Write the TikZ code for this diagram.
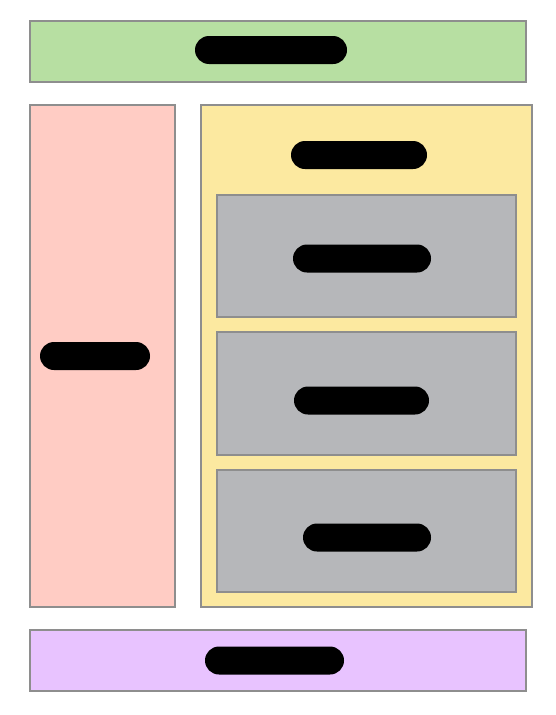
\documentclass[tikz,border=0pt]{standalone}
\usepackage{tikz}
\usetikzlibrary{positioning}
\definecolor{hdrgreen}{HTML}{B7DFA2}
\definecolor{sidered}{HTML}{FFCCC4}
\definecolor{mainyellow}{HTML}{FCE9A0}
\definecolor{panelgray}{HTML}{B6B7BA}
\definecolor{ftrpurple}{HTML}{E8C3FF}
\definecolor{edgegray}{HTML}{8E8E8E}
\begin{document}
\begin{tikzpicture}[
  x=1pt, y=-1pt,
  box/.style = {rectangle, draw=edgegray, line width=1.6pt, inner sep=0pt},
  redact/.style = {rectangle, rounded corners=14pt, fill=black, inner sep=0pt,
    minimum height=28pt}
]
\useasboundingbox (0,0) rectangle (556,715);
% frame boxes
\node[box, fill=hdrgreen, minimum width=496pt, minimum height=61pt]   (header)  at (278,51.5) {};
\node[box, fill=sidered, minimum width=145pt, minimum height=502pt]   (sidebar) at (102.5,356) {};
\node[box, fill=mainyellow, minimum width=331pt, minimum height=502pt] (main)   at (366.5,356) {};
\node[box, fill=panelgray, minimum width=299pt, minimum height=122pt] (panelA)  at (366.5,256) {};
\node[box, fill=panelgray, minimum width=299pt, minimum height=123pt] (panelB)  at (366.5,393.5) {};
\node[box, fill=panelgray, minimum width=299pt, minimum height=122pt] (panelC)  at (366.5,531) {};
\node[box, fill=ftrpurple, minimum width=496pt, minimum height=61pt]  (footer)  at (278,660.5) {};
% redacted labels
\node[redact, minimum width=152pt] (headerlbl)  at (271,50) {};
\node[redact, minimum width=110pt] (sidebarlbl) at (95,356) {};
\node[redact, minimum width=136pt] (mainlbl)    at (359,155) {};
\node[redact, minimum width=138pt] (panelAlbl)  at (362,258.5) {};
\node[redact, minimum width=135pt] (panelBlbl)  at (361.5,400.5) {};
\node[redact, minimum width=128pt] (panelClbl)  at (367,537.5) {};
\node[redact, minimum width=139pt] (footerlbl)  at (274.5,660.5) {};
\end{tikzpicture}
\end{document}
